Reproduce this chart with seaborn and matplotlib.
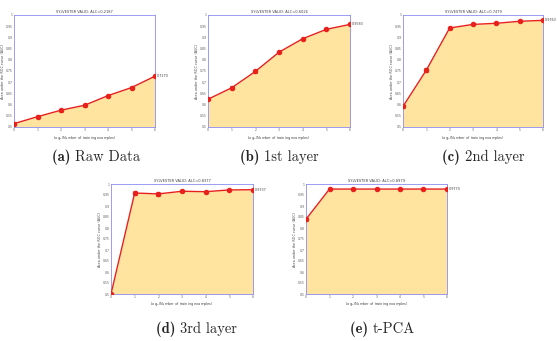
import numpy as np
import pandas as pd
import matplotlib
matplotlib.use("Agg")
import matplotlib.pyplot as plt
import seaborn as sns

sns.set_theme(style="white")
plt.rcParams['font.family'] = ['DejaVu Sans']

x_vals = [0, 1, 2, 3, 4, 5, 6]
raw_data = [0.515, 0.546, 0.575, 0.597, 0.640, 0.676, 0.727]
layer1 = [0.624, 0.675, 0.748, 0.834, 0.894, 0.936, 0.958]
layer2 = [0.592, 0.754, 0.942, 0.958, 0.963, 0.972, 0.976]
layer3 = [0.500, 0.959, 0.955, 0.967, 0.965, 0.973, 0.974]
tpca = [0.840, 0.977, 0.977, 0.977, 0.977, 0.977, 0.977]
err_raw = [0.006, 0.006, 0.006, 0.006, 0.005, 0.005, 0.004]
err_l1 = [0.005, 0.006, 0.006, 0.005, 0.004, 0.004, 0.003]
err_l2 = [0.006, 0.008, 0.006, 0.004, 0.004, 0.003, 0.002]
err_l3 = [0.003, 0.010, 0.008, 0.004, 0.004, 0.003, 0.002]
err_tp = [0.006, 0.002, 0.002, 0.002, 0.002, 0.002, 0.002]
titles = ["SYLVESTER VALID: ALC=0.2187", "SYLVESTER VALID: ALC=0.6026",
          "SYLVESTER VALID: ALC=0.7479", "SYLVESTER VALID: ALC=0.8377",
          "SYLVESTER VALID: ALC=0.8979"]
end_labels = ["0.7270", "0.9583", "0.9763", "0.9737", "0.9770"]
captions_bold = ["(a)", "(b)", "(c)", "(d)", "(e)"]
captions_text = ["Raw Data", "1st layer", "2nd layer", "3rd layer", "t-PCA"]
y_ticks = [0.5, 0.55, 0.6, 0.65, 0.7, 0.75, 0.8, 0.85, 0.9, 0.95, 1]
y_tick_labels = ["0.5", "0.55", "0.6", "0.65", "0.7", "0.75", "0.8", "0.85", "0.9", "0.95", "1"]

series = [raw_data, layer1, layer2, layer3, tpca]
errors = [err_raw, err_l1, err_l2, err_l3, err_tp]

W, H = 557, 341
fig = plt.figure(figsize=(W / 100, H / 100), dpi=100)
fig.patch.set_facecolor("white")

# pixel boxes: left, top, right, bottom
boxes = [(14, 15, 155, 127), (208, 15, 350, 127), (403, 15, 543, 127),
         (111, 184, 253, 294), (306, 184, 447, 294)]
cap_pos = [(75, 157), (264, 157), (465, 157), (180, 329), (373, 329)]

spine_col = "#8c8cf0"
fill_col = "#ffe4a0"
line_col = "#e8201c"

for i, (l, t, r, b) in enumerate(boxes):
    ax = fig.add_axes([l / W, 1 - b / H, (r - l) / W, (b - t) / H])
    df = pd.DataFrame({"x": x_vals, "y": series[i]})
    ax.fill_between(df["x"], 0.5, df["y"], color=fill_col, linewidth=0, zorder=1)
    sns.lineplot(data=df, x="x", y="y", ax=ax, color=line_col, linewidth=1.0,
                 marker="o", markersize=3.2, markeredgecolor=line_col, zorder=3)
    ax.errorbar(df["x"], df["y"], yerr=errors[i], fmt="none", ecolor=line_col,
                elinewidth=0.8, capsize=1.5, capthick=0.8, zorder=4)
    ax.set_xlim(0, 6)
    ax.set_ylim(0.5, 1)
    ax.set_xticks(x_vals)
    ax.set_xticklabels([str(v) for v in x_vals])
    ax.set_yticks(y_ticks)
    ax.set_yticklabels(y_tick_labels)
    ax.tick_params(axis="both", labelsize=2.2, length=1.2, width=0.4, pad=0.8,
                   colors="#555555", direction="in")
    for s in ax.spines.values():
        s.set_color(spine_col)
        s.set_linewidth(0.6)
    ax.set_xlabel("Log$_2$(Number of training examples)", fontsize=2.5, labelpad=1,
                  color="#444444")
    ax.set_ylabel("Area under the ROC curve (AUC)", fontsize=2.4, labelpad=0.6,
                  color="#444444")
    ax.set_title(titles[i], fontsize=2.6, pad=1.5, color="#444444")
    ax.text(6.08, series[i][-1], end_labels[i], fontsize=2.4, va="center",
            ha="left", color="#444444", clip_on=False)
    ax.set_facecolor("white")

for i, (cx, cy) in enumerate(cap_pos):
    fig.text(cx / W, 1 - cy / H, captions_bold[i] + " ", fontsize=10.5,
             family="cmb10", ha="right", va="center")
    fig.text(cx / W, 1 - cy / H, captions_text[i], fontsize=10.5,
             family="cmr10", ha="left", va="center")

fig.savefig("out.png", dpi=100, facecolor="white")
